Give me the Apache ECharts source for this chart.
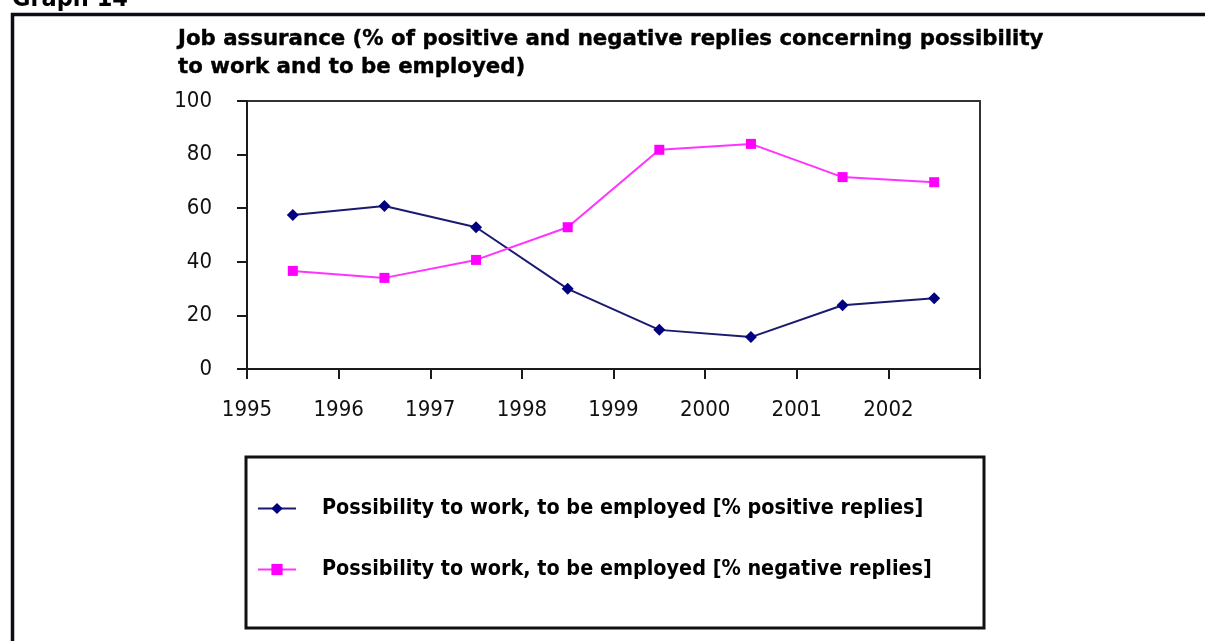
<!DOCTYPE html>
<html>
<head>
<meta charset="utf-8">
<script src="https://cdn.jsdelivr.net/npm/echarts@6/dist/echarts.min.js"></script>
<style>
  html, body { margin: 0; padding: 0; background: #ffffff; }
  #chart { width: 1205px; height: 641px; }
</style>
</head>
<body>
<div id="chart"></div>
<script>
// Survey years (each value sits in the middle of its year band)
const years = [1995, 1996, 1997, 1998, 1999, 2000, 2001, 2002];
// % positive replies
const positiveReplies = [57.5, 60.8, 52.9, 29.9, 14.6, 11.9, 23.8, 26.4];
// % negative replies
const negativeReplies = [36.6, 34.0, 40.7, 52.9, 81.8, 84.0, 71.6, 69.7];
const yTicks = [0, 20, 40, 60, 80, 100];

const seriesNames = [
  'Possibility to work, to be employed [% positive replies]',
  'Possibility to work, to be employed [% negative replies]'
];

const toPoints = vals => vals.map((v, i) => [years[i] + 0.5, v]);

const condensed = '"DejaVu Sans Condensed", "DejaVu Sans", sans-serif';
const wide = '"DejaVu Sans", Verdana, sans-serif';

const chart = echarts.init(document.getElementById('chart'), null, { renderer: 'canvas' });

chart.setOption({
  animation: false,
  backgroundColor: '#ffffff',
  title: {
    text: 'Job assurance (% of positive and negative replies concerning possibility\nto work and to be employed)',
    left: 178,
    top: 25,
    padding: 0,
    textStyle: {
      fontFamily: wide,
      fontWeight: 'bold',
      fontSize: 21.3,
      lineHeight: 28,
      color: '#000',
      textBorderColor: '#000',
      textBorderWidth: 0.4
    }
  },
  grid: {
    left: 247,
    top: 101,
    right: 225,
    bottom: 272,
    show: true,
    borderColor: '#333',
    borderWidth: 2,
    backgroundColor: 'transparent'
  },
  xAxis: {
    type: 'value',
    min: years[0],
    max: years[years.length - 1] + 1,
    interval: 1,
    axisLine: { show: true, lineStyle: { color: '#1a1a1a', width: 2 } },
    axisTick: { show: true, inside: false, length: 10, lineStyle: { color: '#1a1a1a', width: 2 } },
    splitLine: { show: false },
    axisLabel: {
      margin: 30,
      fontFamily: condensed,
      fontSize: 22,
      color: '#111',
      formatter: v => (years.indexOf(v) >= 0 ? String(v) : '')
    }
  },
  yAxis: {
    type: 'value',
    min: yTicks[0],
    max: yTicks[yTicks.length - 1],
    interval: 20,
    axisLine: { show: true, lineStyle: { color: '#1a1a1a', width: 2 } },
    axisTick: { show: true, inside: false, length: 10, lineStyle: { color: '#1a1a1a', width: 2 } },
    splitLine: { show: false },
    axisLabel: {
      margin: 35,
      fontFamily: condensed,
      fontSize: 22,
      color: '#111'
    }
  },
  legend: {
    orient: 'vertical',
    left: 257,
    top: 498,
    itemWidth: 38,
    itemHeight: 14,
    itemGap: 40,
    padding: 0,
    textStyle: {
      fontFamily: condensed,
      fontWeight: 'bold',
      fontSize: 21.4,
      color: '#000',
      padding: [0, 0, 0, 21]
    },
    data: seriesNames
  },
  graphic: [
    {
      // chart heading, partly above the frame
      type: 'text',
      left: 12,
      top: -13,
      style: {
        text: 'Graph 14',
        font: 'bold 25px ' + condensed,
        fill: '#000'
      }
    },
    {
      // outer frame (left and top edges)
      type: 'polyline',
      shape: { points: [[12.5, 660], [12.5, 14.5], [1220, 14.5]] },
      style: { stroke: '#0d0d1a', lineWidth: 3.5, fill: null }
    },
    {
      // legend box
      type: 'rect',
      shape: { x: 246, y: 457, width: 738, height: 171 },
      style: { stroke: '#111', lineWidth: 3, fill: null }
    }
  ],
  series: [
    {
      name: seriesNames[0],
      type: 'line',
      data: toPoints(positiveReplies),
      symbol: 'diamond',
      symbolSize: 12,
      itemStyle: { color: '#000080' },
      lineStyle: { color: '#1a1a70', width: 2 }
    },
    {
      name: seriesNames[1],
      type: 'line',
      data: toPoints(negativeReplies),
      symbol: 'rect',
      symbolSize: 10,
      itemStyle: { color: '#ff00ff' },
      lineStyle: { color: '#ff33ff', width: 2 }
    }
  ]
});
</script>
</body>
</html>
